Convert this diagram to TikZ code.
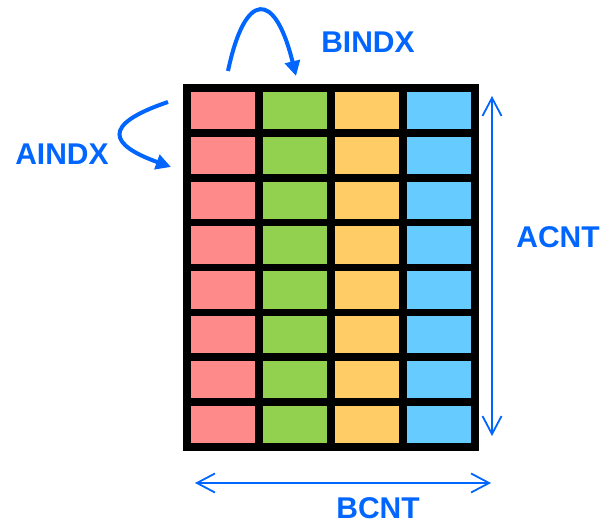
\documentclass[tikz,border=0pt]{standalone}
\usepackage{fontspec}
\setmainfont{Liberation Sans}
\usetikzlibrary{arrows.meta}
\definecolor{cellred}{HTML}{FF8A8A}
\definecolor{cellgreen}{HTML}{92D050}
\definecolor{cellyellow}{HTML}{FFCC66}
\definecolor{cellblue}{HTML}{66CCFF}
\definecolor{accent}{HTML}{0066FF}
\begin{document}
\begin{tikzpicture}[x=1pt,y=-1pt,
  tag/.style={font=\bfseries\fontsize{30}{30}\selectfont, text=accent, inner sep=0pt},
  gridline/.style={line width=7.7pt, black},
  extent/.style={accent, line width=1.8pt, {Straight Barb[length=18pt,width=19pt]}-{Straight Barb[length=18pt,width=19pt]}},
  curvearrow/.style={accent, line width=4pt, -{Triangle[length=15pt,width=15pt]}}]
\useasboundingbox (0,0) rectangle (603,525);

% coloured columns
\foreach \c/\col in {0/cellred,1/cellgreen,2/cellyellow,3/cellblue}
  \fill[\col] (187+72*\c,88) rectangle (259+72*\c,447);

% grid lines
\foreach \i in {1,2,3}
  \draw[gridline] (187+72*\i,88) -- (187+72*\i,447);
\foreach \j in {1,...,7}
  \draw[gridline] (187,88+44.875*\j) -- (475,88+44.875*\j);
\draw[gridline] (187,88) rectangle (475,447);

% labels
\node[tag] (bindx) at (368,42) {BINDX};
\node[tag] (aindx) at (62,154) {AINDX};
\node[tag] (acnt)  at (558,237) {ACNT};
\node[tag] (bcnt)  at (378,508) {BCNT};

% arrow end points
\coordinate (bstart) at (228,71);
\coordinate (bstop)  at (296,76);
\coordinate (astart) at (168,102);
\coordinate (astop)  at (171,167);
\coordinate (ctop)   at (492,96);
\coordinate (cbot)   at (492,436);
\coordinate (rleft)  at (195,483);
\coordinate (rright) at (491,483);

% index arrows
\draw[curvearrow] (bstart) .. controls (245,-10) and (275,-10) .. (bstop);
\draw[curvearrow] (astart) .. controls (100,125) and (110,145) .. (astop);

% extent arrows
\draw[extent] (ctop) -- (cbot);
\draw[extent] (rleft) -- (rright);
\end{tikzpicture}
\end{document}
